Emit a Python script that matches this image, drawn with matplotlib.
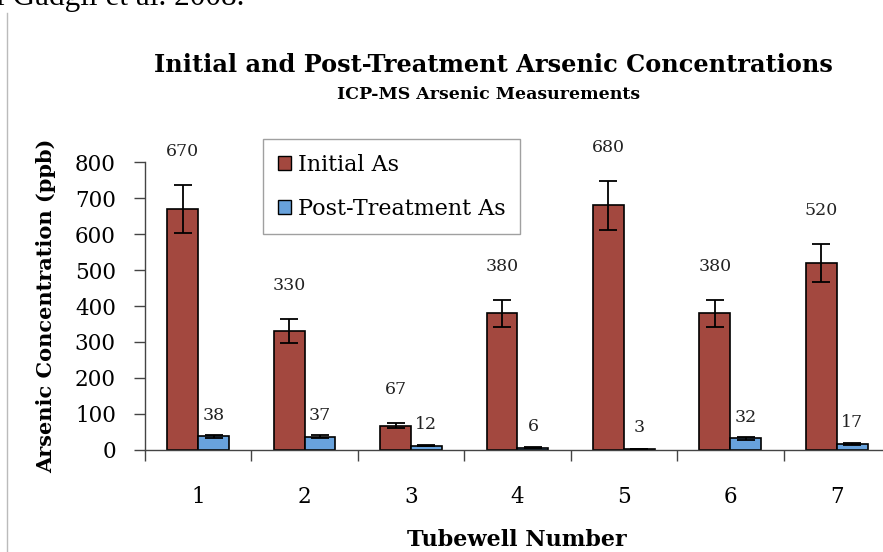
import numpy as np
import matplotlib
matplotlib.use("Agg")
import matplotlib.pyplot as plt
from matplotlib.patches import Patch

# values
tubewells = ["1", "2", "3", "4", "5", "6", "7"]
initial_as = [670, 330, 67, 380, 680, 380, 520]
post_as = [38, 37, 12, 6, 3, 32, 17]
initial_err = [67, 33, 7, 38, 68, 38, 52]
post_err = [4, 4, 1, 1, 0.5, 3, 2]

red = "#A3483F"
blue = "#68A2DC"
serif = ["DejaVu Serif"]

plt.rcParams["font.family"] = serif

fig = plt.figure(figsize=(8.83, 5.52), dpi=100)
ax = fig.add_axes([0.1642, 0.1848, 0.8437, 0.5217])

x = np.arange(len(tubewells))
w = 0.29
ax.bar(x - w / 2, initial_as, w, color=red, edgecolor="black", linewidth=1.2, zorder=2)
ax.bar(x + w / 2, post_as, w, color=blue, edgecolor="black", linewidth=1.2, zorder=2)
ax.errorbar(x - w / 2, initial_as, yerr=initial_err, fmt="none", ecolor="black",
            elinewidth=1.3, capsize=6.5, capthick=1.3, zorder=3)
ax.errorbar(x + w / 2, post_as, yerr=post_err, fmt="none", ecolor="black",
            elinewidth=1.3, capsize=6.5, capthick=1.3, zorder=3)

# value labels
for i in range(len(x)):
    ax.annotate(str(initial_as[i]), (x[i] - w / 2, initial_as[i] + initial_err[i]),
                xytext=(0, 18), textcoords="offset points", ha="center", va="bottom",
                fontsize=12.5, color="#222222")
    ax.annotate(str(post_as[i]), (x[i] + w / 2, post_as[i]),
                xytext=(0, 9), textcoords="offset points", ha="center", va="bottom",
                fontsize=12.5, color="#222222")

ax.set_xlim(-0.5, 6.5)
ax.set_ylim(0, 800)
ax.set_yticks(np.arange(0, 801, 100))
ax.set_xticks(x)
ax.set_xticklabels(tubewells)
ax.set_xticks(np.arange(-0.5, 7, 1), minor=True)
ax.tick_params(axis="x", which="major", length=0, pad=26, labelsize=15.5)
ax.tick_params(axis="x", which="minor", length=8, width=1, color="#444444")
ax.tick_params(axis="y", length=8, width=1, color="#444444", labelsize=15.5, pad=13)
for s in ["top", "right"]:
    ax.spines[s].set_visible(False)
for s in ["left", "bottom"]:
    ax.spines[s].set_color("#444444")
    ax.spines[s].set_linewidth(1)

ax.set_ylabel("Arsenic Concentration (ppb)", fontsize=15, fontweight="bold",
              ha="center", va="center")
ax.yaxis.set_label_coords(-0.133, 0.5)
ax.set_xlabel("Tubewell Number", fontsize=16, fontweight="bold", va="center")
ax.xaxis.set_label_coords(0.499, -0.3125)

fig.text(0.559, 0.882, "Initial and Post-Treatment Arsenic Concentrations",
         ha="center", va="center", fontsize=17.3, fontweight="bold")
fig.text(0.553, 0.828, "ICP-MS Arsenic Measurements",
         ha="center", va="center", fontsize=12.5, fontweight="bold")

handles = [Patch(facecolor=red, edgecolor="black"), Patch(facecolor=blue, edgecolor="black")]
leg = fig.legend(handles, ["Initial As", "Post-Treatment As"], loc="upper left",
                 bbox_to_anchor=(0.298, 0.748), borderaxespad=0, fontsize=16,
                 frameon=True, fancybox=False, handlelength=0.6, handleheight=0.6,
                 handletextpad=0.3, labelspacing=1.0, borderpad=0.65)
leg.get_frame().set_edgecolor("#888888")
leg.get_frame().set_linewidth(1)

# document fragments around the chart
fig.text(-0.005, 1.005, "l Gadgil et al. 2008.", ha="left", va="center",
         fontsize=22.5, family=["Liberation Serif"])
fig.add_artist(plt.Line2D([0.008, 0.008], [0, 0.977], color="#bbbbbb", linewidth=1))

fig.savefig("out.png", dpi=100)
